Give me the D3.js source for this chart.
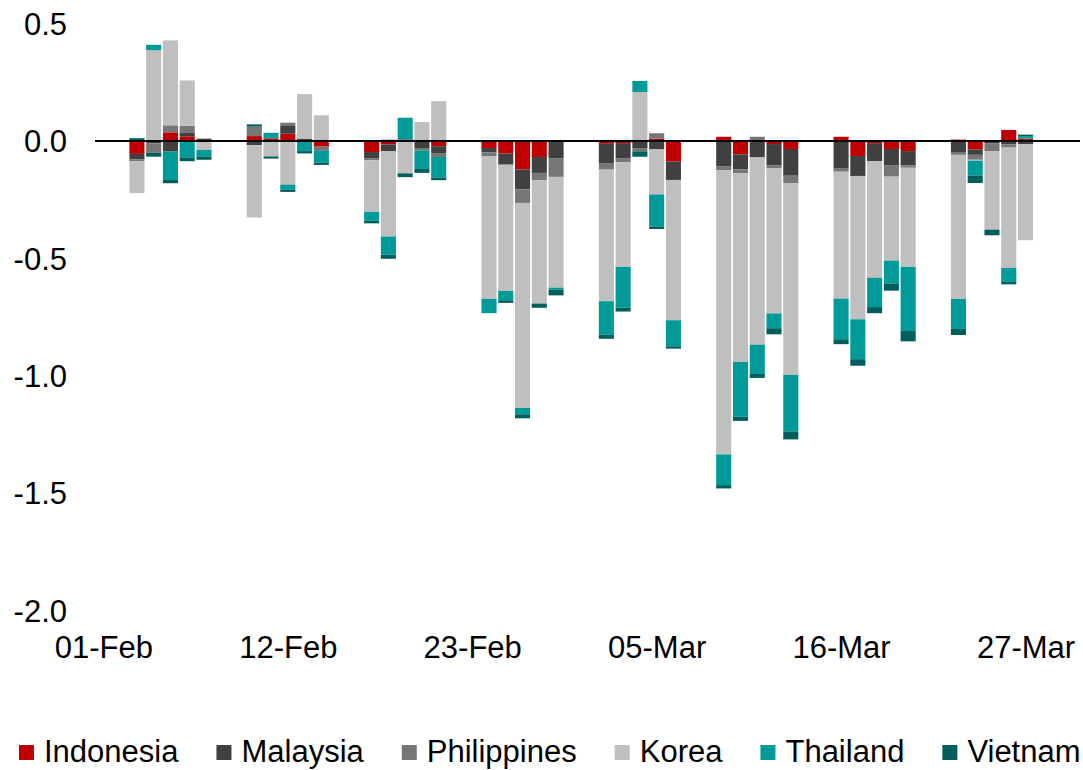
<!DOCTYPE html>
<html>
<head>
<meta charset="utf-8">
<script src="https://cdn.jsdelivr.net/npm/d3@7"></script>
<style>
  html, body { margin: 0; padding: 0; background: #fff; }
  svg text { font-family: "Liberation Sans", Arial, sans-serif; fill: #000; }
</style>
</head>
<body>
<svg id="chart" width="1083" height="770"></svg>
<script>
// Trading days, Feb-Mar 2020
const dates = [
  "2020-02-03","2020-02-04","2020-02-05","2020-02-06","2020-02-07",
  "2020-02-10","2020-02-11","2020-02-12","2020-02-13","2020-02-14",
  "2020-02-17","2020-02-18","2020-02-19","2020-02-20","2020-02-21",
  "2020-02-24","2020-02-25","2020-02-26","2020-02-27","2020-02-28",
  "2020-03-02","2020-03-03","2020-03-04","2020-03-05","2020-03-06",
  "2020-03-09","2020-03-10","2020-03-11","2020-03-12","2020-03-13",
  "2020-03-16","2020-03-17","2020-03-18","2020-03-19","2020-03-20",
  "2020-03-23","2020-03-24","2020-03-25","2020-03-26","2020-03-27"
];

const seriesNames = ["Indonesia", "Malaysia", "Philippines", "Korea", "Thailand", "Vietnam"];

const indonesia = [
  -0.055, 0.005, 0.037, 0.020, 0.000,
   0.021, 0.011, 0.031, 0.000, -0.024,
  -0.047, -0.015, 0.000, 0.000, -0.022,
  -0.030, -0.054, -0.121, -0.068, 0.000,
  -0.012, -0.009, 0.000, 0.010, -0.088,
   0.018, -0.057, 0.003, -0.013, -0.034,
   0.018, -0.064, -0.009, -0.034, -0.043,
   0.006, -0.036, 0.000, 0.047, 0.010
];
const malaysia = [
  -0.023, -0.010, -0.045, 0.017, 0.010,
  -0.018, 0.000, 0.036, 0.010, 0.000,
  -0.028, -0.028, 0.007, -0.030, -0.032,
  -0.018, -0.047, -0.085, -0.068, -0.075,
  -0.082, -0.064, -0.030, -0.036, -0.078,
  -0.107, -0.064, -0.070, -0.090, -0.114,
  -0.118, -0.085, -0.077, -0.071, -0.061,
  -0.050, -0.023, -0.011, -0.014, -0.014
];
const philippines = [
  -0.008, -0.040, 0.030, 0.028, -0.003,
   0.040, 0.000, 0.011, 0.000, -0.018,
  -0.007, 0.006, 0.000, -0.011, -0.014,
  -0.018, 0.000, -0.058, -0.031, -0.078,
  -0.028, -0.018, -0.014, 0.023, 0.000,
  -0.017, -0.017, 0.015, -0.014, -0.031,
  -0.013, 0.000, 0.000, -0.047, -0.010,
  -0.009, -0.021, -0.033, -0.014, 0.000
];
const korea = [
  -0.136, 0.382, 0.362, 0.193, -0.035,
  -0.308, -0.066, -0.186, 0.190, 0.110,
  -0.220, -0.364, -0.138, 0.081, 0.170,
  -0.607, -0.538, -0.874, -0.526, -0.472,
  -0.561, -0.446, 0.209, -0.192, -0.598,
  -1.212, -0.804, -0.798, -0.618, -0.818,
  -0.541, -0.611, -0.497, -0.358, -0.423,
  -0.614, -0.004, -0.334, -0.513, -0.409
];
const thailand = [
   0.000, 0.023, -0.121, -0.070, -0.028,
   0.000, 0.024, -0.021, -0.043, -0.050,
  -0.038, -0.078, 0.092, -0.078, -0.088,
  -0.061, -0.040, -0.027, 0.000, -0.009,
  -0.142, -0.173, 0.047, -0.136, -0.111,
  -0.131, -0.233, -0.125, -0.063, -0.241,
  -0.173, -0.170, -0.125, -0.097, -0.273,
  -0.128, -0.064, 0.000, -0.060, 0.011
];
const vietnam = [
   0.012, -0.017, -0.014, -0.016, -0.014,
   0.010, -0.009, -0.010, -0.010, -0.010,
  -0.011, -0.017, -0.016, -0.017, -0.011,
   0.000, -0.011, -0.017, -0.018, -0.024,
  -0.018, -0.017, -0.023, -0.011, -0.010,
  -0.014, -0.018, -0.017, -0.026, -0.034,
  -0.021, -0.028, -0.026, -0.031, -0.044,
  -0.026, -0.031, -0.024, -0.010, 0.006
];

const yTicks = [0.5, 0.0, -0.5, -1.0, -1.5, -2.0];
const xTickLabels = ["01-Feb", "12-Feb", "23-Feb", "05-Mar", "16-Mar", "27-Mar"];

const colors = ["#C00000", "#404040", "#767676", "#BFBFBF", "#009B98", "#005F5C"];

// Build rows for stacking
const seriesValues = [indonesia, malaysia, philippines, korea, thailand, vietnam];
const rows = dates.map((d, i) => {
  const r = { date: d3.utcParse("%Y-%m-%d")(d) };
  seriesNames.forEach((s, k) => { r[s] = seriesValues[k][i]; });
  return r;
});

const svg = d3.select("#chart");
const plotLeft = 95, plotRight = 1080;
const DAY = 864e5;
const FONT = 31;

// Date axis: one band per calendar day
const x = d3.scaleUtc()
  .domain([new Date(Date.UTC(2020, 1, 1) - DAY / 2), new Date(Date.UTC(2020, 2, 30, 6))])
  .range([plotLeft, plotRight]);
const dayWidth = x(new Date(DAY)) - x(new Date(0));
const barWidth = dayWidth * 0.9;

const y = d3.scaleLinear().domain([-2.0, 0.5]).range([610.2, 23.7]);

const stack = d3.stack().keys(seriesNames).offset(d3.stackOffsetDiverging);
const layers = stack(rows);

svg.append("g")
  .selectAll("g")
  .data(layers)
  .join("g")
  .attr("fill", (d, i) => colors[i])
  .selectAll("rect")
  .data(d => d)
  .join("rect")
  .attr("x", d => x(d.data.date) - barWidth / 2)
  .attr("width", barWidth)
  .attr("y", d => y(Math.max(d[0], d[1])))
  .attr("height", d => Math.abs(y(d[0]) - y(d[1])));

// Zero line
svg.append("line")
  .attr("x1", plotLeft).attr("x2", plotRight)
  .attr("y1", y(0)).attr("y2", y(0))
  .attr("stroke", "#000").attr("stroke-width", 2);

// Y axis labels (no axis line)
const yAxis = d3.axisLeft(y).tickValues(yTicks).tickFormat(d3.format(".1f")).tickSize(0).tickPadding(0);
const gy = svg.append("g").attr("transform", "translate(67,0)").call(yAxis);
gy.select(".domain").remove();
gy.selectAll("text")
  .attr("font-size", FONT)
  .attr("font-family", "Liberation Sans, Arial, sans-serif")
  .attr("dy", "0.35em")
  .text(d => d3.format(".1f")(d).replace("\u2212", "-"));

// X axis labels every 11 days from 01-Feb
const xParse = d3.utcParse("%d-%b-%Y");
const xTicks = xTickLabels.map(s => xParse(s + "-2020"));
const xAxis = d3.axisBottom(x).tickValues(xTicks).tickFormat(d3.utcFormat("%d-%b")).tickSize(0).tickPadding(0);
const gx = svg.append("g").attr("transform", "translate(0,636)").call(xAxis);
gx.select(".domain").remove();
gx.selectAll("text")
  .attr("font-size", FONT)
  .attr("font-family", "Liberation Sans, Arial, sans-serif")
  .attr("dy", "0.71em");

// Legend
const legend = svg.append("g").attr("transform", "translate(19,0)");
let lx = 0;
seriesNames.forEach((name, i) => {
  const g = legend.append("g").attr("transform", `translate(${lx},0)`);
  g.append("rect").attr("x", 0).attr("y", 745).attr("width", 15).attr("height", 15).attr("fill", colors[i]);
  const t = g.append("text").attr("x", 25).attr("y", 762).attr("font-size", FONT).text(name);
  lx += 25 + t.node().getComputedTextLength() + 38;
});
</script>
</body>
</html>
